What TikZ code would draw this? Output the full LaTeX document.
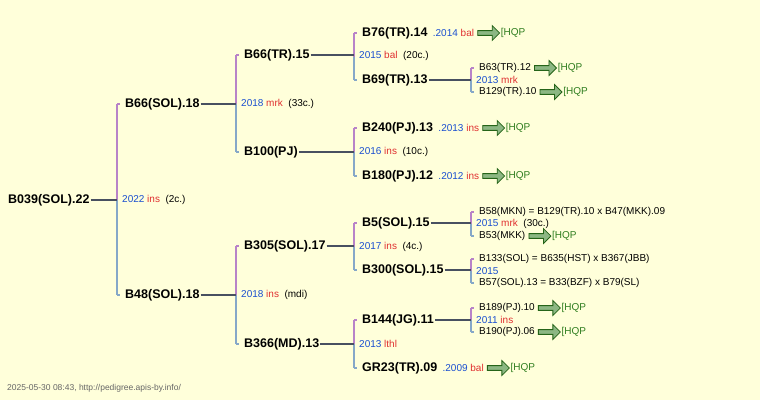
\documentclass[tikz,border=0pt]{standalone}
\usepackage{fontspec}
\setmainfont{Liberation Sans}
\usetikzlibrary{shapes.arrows,positioning}
\definecolor{bg}{HTML}{FFFFDA}
\definecolor{yr}{HTML}{1A4FD0}
\definecolor{rd}{HTML}{E03030}
\definecolor{gr}{HTML}{2E7D1E}
\definecolor{pu}{HTML}{B883C8}
\definecolor{bl}{HTML}{86A8C8}
\definecolor{ln}{HTML}{485060}
\tikzset{
 nm/.style={anchor=west,inner sep=1pt,font=\fontsize{12.5}{12}\selectfont\bfseries},
 sm/.style={anchor=west,inner sep=1pt,font=\fontsize{10}{10}\selectfont},
 lb/.style={anchor=west,inner sep=1pt,font=\fontsize{10}{10}\selectfont},
 conn/.style={ln,line width=2pt},
 hqp/.style={single arrow,draw=gr!80!black,fill=gr!55!white,minimum height=22pt,minimum width=15pt,single arrow head extend=3pt,inner sep=1pt,anchor=west,line width=0.8pt},
 hq/.style={anchor=west,inner sep=0.5pt,text=gr,font=\fontsize{10}{10}\selectfont}
}
\newcommand{\pbar}[4]{% x, ytop, ybot, name
 \coordinate (#4) at (#1,{(#2+#3)/2});
 \draw[pu,line width=2pt] (#1,#2) -- (#4);
 \draw[bl,line width=2pt] (#4) -- (#1,#3);
 \draw[pu,line width=2pt] (#1,#2) -- ++(3,0);
 \draw[bl,line width=2pt] (#1,#3) -- ++(3,0);}
\newcommand{\hqpafter}[2]{% after node, name
 \node[hqp,right=2pt of #1] (#2a) {};
 \node[hq,right=0pt of #2a.east,anchor=west] (#2h) {[HQP};}
\begin{document}
\begin{tikzpicture}[x=1pt,y=-1pt]
\fill[bg] (0,0) rectangle (760,400);
\useasboundingbox (0,0) rectangle (760,400);
% root
\node[nm] (r) at (7,200) {B039(SOL).22};
\pbar{117}{104}{295}{br}
\draw[conn] (r.east) -- (r.east -| br);
\node[lb] (lr) at (121,200) {\textcolor{yr}{2022} \textcolor{rd}{ins} \ (2c.)};
% gen1
\node[nm] (a) at (124,104) {B66(SOL).18};
\pbar{236}{55}{152}{ba}
\draw[conn] (a.east) -- (a.east -| ba);
\node[lb] (la) at (240,104) {\textcolor{yr}{2018} \textcolor{rd}{mrk} \ (33c.)};
\node[nm] (b) at (124,295) {B48(SOL).18};
\pbar{236}{246}{344}{bb}
\draw[conn] (b.east) -- (b.east -| bb);
\node[lb] (lbb) at (240,295) {\textcolor{yr}{2018} \textcolor{rd}{ins} \ (mdi)};
% gen2
\node[nm] (c) at (243,55) {B66(TR).15};
\pbar{354}{33}{80}{bc}
\draw[conn] (c.east) -- (c.east -| bc);
\node[lb] (lc) at (358,56) {\textcolor{yr}{2015} \textcolor{rd}{bal} \ (20c.)};
\node[nm] (d) at (243,152) {B100(PJ)};
\pbar{354}{128}{176}{bd}
\draw[conn] (d.east) -- (d.east -| bd);
\node[lb] (ld) at (358,152) {\textcolor{yr}{2016} \textcolor{rd}{ins} \ (10c.)};
\node[nm] (e) at (243,246) {B305(SOL).17};
\pbar{354}{223}{270}{be}
\draw[conn] (e.east) -- (e.east -| be);
\node[lb] (le) at (358,247) {\textcolor{yr}{2017} \textcolor{rd}{ins} \ (4c.)};
\node[nm] (f) at (243,344) {B366(MD).13};
\pbar{354}{320}{368}{bf}
\draw[conn] (f.east) -- (f.east -| bf);
\node[lb] (lf) at (358,344) {\textcolor{yr}{2013} \textcolor{rd}{lthl}};
% gen3
\node[nm] (g1) at (361,33) {B76(TR).14};
\node[lb] (g1l) at (g1.east) [xshift=3pt] {\textcolor{yr}{.2014} \textcolor{rd}{bal}};
\hqpafter{g1l}{g1}
\node[nm] (g2) at (361,80) {B69(TR).13};
\pbar{471}{68}{92}{bg2}
\draw[conn] (g2.east) -- (g2.east -| bg2);
\node[sm,text=yr] (g2l) at (475,80) {2013 \textcolor{rd}{mrk}};
\node[sm] (h1) at (478,68) {B63(TR).12};
\hqpafter{h1}{h1}
\node[sm] (h2) at (478,92) {B129(TR).10};
\hqpafter{h2}{h2}
\node[nm] (g3) at (361,128) {B240(PJ).13};
\node[lb] (g3l) at (g3.east) [xshift=3pt] {\textcolor{yr}{.2013} \textcolor{rd}{ins}};
\hqpafter{g3l}{g3}
\node[nm] (g4) at (361,176) {B180(PJ).12};
\node[lb] (g4l) at (g4.east) [xshift=3pt] {\textcolor{yr}{.2012} \textcolor{rd}{ins}};
\hqpafter{g4l}{g4}
\node[nm] (g5) at (361,223) {B5(SOL).15};
\pbar{471}{212}{236}{bg5}
\draw[conn] (g5.east) -- (g5.east -| bg5);
\node[sm] (h3) at (478,212) {B58(MKN) = B129(TR).10 x B47(MKK).09};
\node[sm] (g5l) at (475,224) {\textcolor{yr}{2015} \textcolor{rd}{mrk} \ (30c.)};
\node[sm] (h4) at (478,236) {B53(MKK)};
\hqpafter{h4}{h4}
\node[nm] (g6) at (361,270) {B300(SOL).15};
\pbar{471}{259}{283}{bg6}
\draw[conn] (g6.east) -- (g6.east -| bg6);
\node[sm] (h5) at (478,259) {B133(SOL) = B635(HST) x B367(JBB)};
\node[sm,text=yr] (g6l) at (475,271) {2015};
\node[sm] (h6) at (478,283) {B57(SOL).13 = B33(BZF) x B79(SL)};
\node[nm] (g7) at (361,320) {B144(JG).11};
\pbar{471}{308}{332}{bg7}
\draw[conn] (g7.east) -- (g7.east -| bg7);
\node[sm] (h7) at (478,308) {B189(PJ).10};
\hqpafter{h7}{h7}
\node[sm] (g7l) at (475,320) {\textcolor{yr}{2011} \textcolor{rd}{ins}};
\node[sm] (h8) at (478,332) {B190(PJ).06};
\hqpafter{h8}{h8}
\node[nm] (g8) at (361,368) {GR23(TR).09};
\node[lb] (g8l) at (g8.east) [xshift=3pt] {\textcolor{yr}{.2009} \textcolor{rd}{bal}};
\hqpafter{g8l}{g8}
\node[anchor=west,inner sep=0pt,text=black!60,font=\fontsize{8.5}{9}\selectfont] (ft) at (7,388) {2025-05-30 08:43, http://pedigree.apis-by.info/};
\end{tikzpicture}
\end{document}
